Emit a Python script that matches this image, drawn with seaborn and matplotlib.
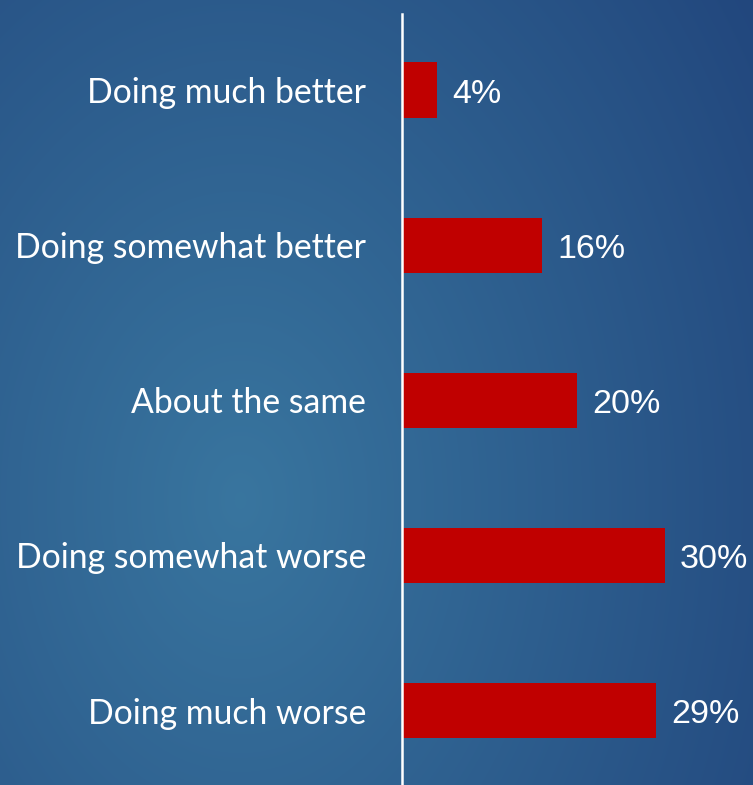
import numpy as np
import pandas as pd
import matplotlib
matplotlib.use("Agg")
import matplotlib.pyplot as plt
import seaborn as sns
from matplotlib.colors import to_rgb

categories = ["Doing much better", "Doing somewhat better", "About the same",
              "Doing somewhat worse", "Doing much worse"]
shares = [4, 16, 20, 30, 29]
value_labels = ["4%", "16%", "20%", "30%", "29%"]

df = pd.DataFrame({"category": categories, "share": shares})

W, H, DPI = 753, 785, 100
fig = plt.figure(figsize=(W / DPI, H / DPI), dpi=DPI)

# blue backdrop: lighter glow on the left-middle, deeper navy toward the right
bg = fig.add_axes([0, 0, 1, 1])
yy, xx = np.mgrid[0:H, 0:W]
cx, cy = 240, 500
d = np.sqrt(((xx - cx) / 1.0) ** 2 + ((yy - cy) / 1.4) ** 2)
t = np.clip(d / 650.0, 0, 1)
t = 0.15 + 0.85 * t
c0 = np.array(to_rgb("#3d7ea5"))
c1 = np.array(to_rgb("#21457c"))
img = c0[None, None, :] * (1 - t[..., None]) + c1[None, None, :] * t[..., None]
bg.imshow(img, aspect="auto", extent=[0, 1, 0, 1], origin="upper")
bg.set_axis_off()

ax_left = 402 / W
ax_top = 14 / H
ax = fig.add_axes([ax_left, 0.0, 1 - ax_left, 1 - ax_top])
ax.patch.set_alpha(0)

sns.barplot(data=df, x="share", y="category", orient="h", color="#c00000",
            width=0.355, saturation=1, ax=ax)

ax.set_xlim(0, (W - 402) / 8.75)
ax.set_ylim(4.48, -0.49)

for s in ["top", "right", "bottom"]:
    ax.spines[s].set_visible(False)
ax.spines["left"].set_color("white")
ax.spines["left"].set_linewidth(1.8)

ax.set_xticks([])
ax.set_xlabel("")
ax.set_ylabel("")
ax.tick_params(axis="y", length=0, pad=26)
for lbl in ax.get_yticklabels():
    lbl.set_color("white")
    lbl.set_fontsize(24.3)
    lbl.set_fontfamily(["Lato", "DejaVu Sans"])

for i, (v, txt) in enumerate(zip(shares, value_labels)):
    ax.annotate(txt, xy=(v, i), xytext=(11, -3), textcoords="offset points",
                ha="left", va="center", color="white", fontsize=24.5,
                family=["Liberation Sans", "DejaVu Sans"])

fig.savefig("out.png", dpi=DPI)
